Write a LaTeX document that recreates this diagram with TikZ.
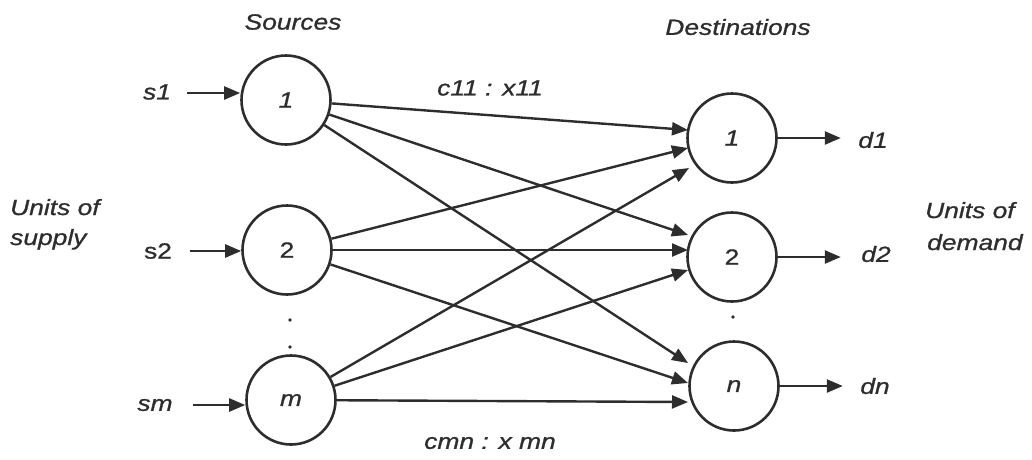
\documentclass[tikz,border=0pt]{standalone}
\usepackage{fontspec}
\setmainfont{Liberation Sans}[FakeStretch=1.2,FakeBold=0.9]
\usetikzlibrary{arrows.meta,calc}
\definecolor{ink}{HTML}{2d2d2d}
\begin{document}
\begin{tikzpicture}[x=1pt,y=-1pt,
  lbl/.style={font=\fontsize{22}{26}\selectfont\itshape, text=ink, inner sep=0pt},
  lblu/.style={font=\fontsize{22}{26}\selectfont, text=ink, inner sep=0pt},
  nd/.style={circle, draw=ink, line width=2.6pt, minimum size=89pt, inner sep=0pt,
    font=\fontsize{22}{26}\selectfont\itshape, text=ink},
  edge/.style={draw=ink, line width=2.4pt, -{Triangle[length=16pt,width=13pt]}},
  dotm/.style={fill=ink},
]
\useasboundingbox (0,0) rectangle (1032,459);
% circles
\node[nd] (S1) at (286,100) {1};
\node[nd] (S2) at (287,250) {\upshape 2};
\node[nd] (Sm) at (291,400) {m};
\node[nd] (D1) at (732,138) {1};
\node[nd] (D2) at (732,257) {\upshape 2};
\node[nd] (Dn) at (734,386) {n};
% headings and labels
\node[lbl] (src) at (293,22) {Sources};
\node[lbl] (dst) at (738,27) {Destinations};
\node[lbl] (s1) at (157,92) {s1};
\node[lblu] (s2) at (158,251) {s2};
\node[lbl] (sm) at (155,405) {sm};
\node[lbl] (d1) at (873,140) {d1};
\node[lbl] (d2) at (876,254) {d2};
\node[lbl] (dn) at (875,386) {dn};
\node[lbl, anchor=base west] (us1) at (10,215) {Units of};
\node[lbl, anchor=base west] (us2) at (10,245) {supply};
\node[lbl, anchor=base west] (ud1) at (925,218) {Units of};
\node[lbl, anchor=base west] (ud2) at (927,250) {demand};
\node[lbl] (c11) at (490,88) {c11 : x11};
\node[lbl] (cmn) at (490,443) {cmn : x mn};
% dots
\fill[dotm] (290,320) circle (1.8);
\fill[dotm] (290,347) circle (1.8);
\fill[dotm] (733,317) circle (1.8);
% input arrows
\coordinate (a1) at (187,93);
\coordinate (a2) at (190,251);
\coordinate (am) at (193,405);
\draw[edge] (a1) -- (a1 -| S1.west);
\draw[edge] (a2) -- (a2 -| S2.west);
\draw[edge] (am) -- (am -| Sm.west);
% output arrows
\coordinate (o1) at ($(D1.east)+(63,0)$);
\coordinate (o2) at ($(D2.east)+(63,0)$);
\coordinate (on) at ($(Dn.east)+(63,0)$);
\draw[edge] (D1.east) -- (o1);
\draw[edge] (D2.east) -- (o2);
\draw[edge] (Dn.east) -- (on);
% arrival points
\coordinate (t11) at ($(D1)+(-44,-8)$);
\coordinate (t21) at ($(D1)+(-44,10)$);
\coordinate (tm1) at ($(D1)+(-43,30)$);
\coordinate (t12) at ($(D2)+(-44,-22)$);
\coordinate (t22) at ($(D2)+(-44,-7)$);
\coordinate (tm2) at ($(D2)+(-44,13)$);
\coordinate (t1n) at ($(Dn)+(-46,-23)$);
\coordinate (t2n) at ($(Dn)+(-46,-3)$);
\coordinate (tmn) at ($(Dn)+(-46,16)$);
% transport edges
\draw[edge] (S1) -- (t11);
\draw[edge] (S1) -- (t12);
\draw[edge] (S1) -- (t1n);
\draw[edge] (S2) -- (t21);
\draw[edge] (S2) -- (t22);
\draw[edge] (S2) -- (t2n);
\draw[edge] (Sm) -- (tm1);
\draw[edge] (Sm) -- (tm2);
\draw[edge] (Sm) -- (tmn);
\end{tikzpicture}
\end{document}
